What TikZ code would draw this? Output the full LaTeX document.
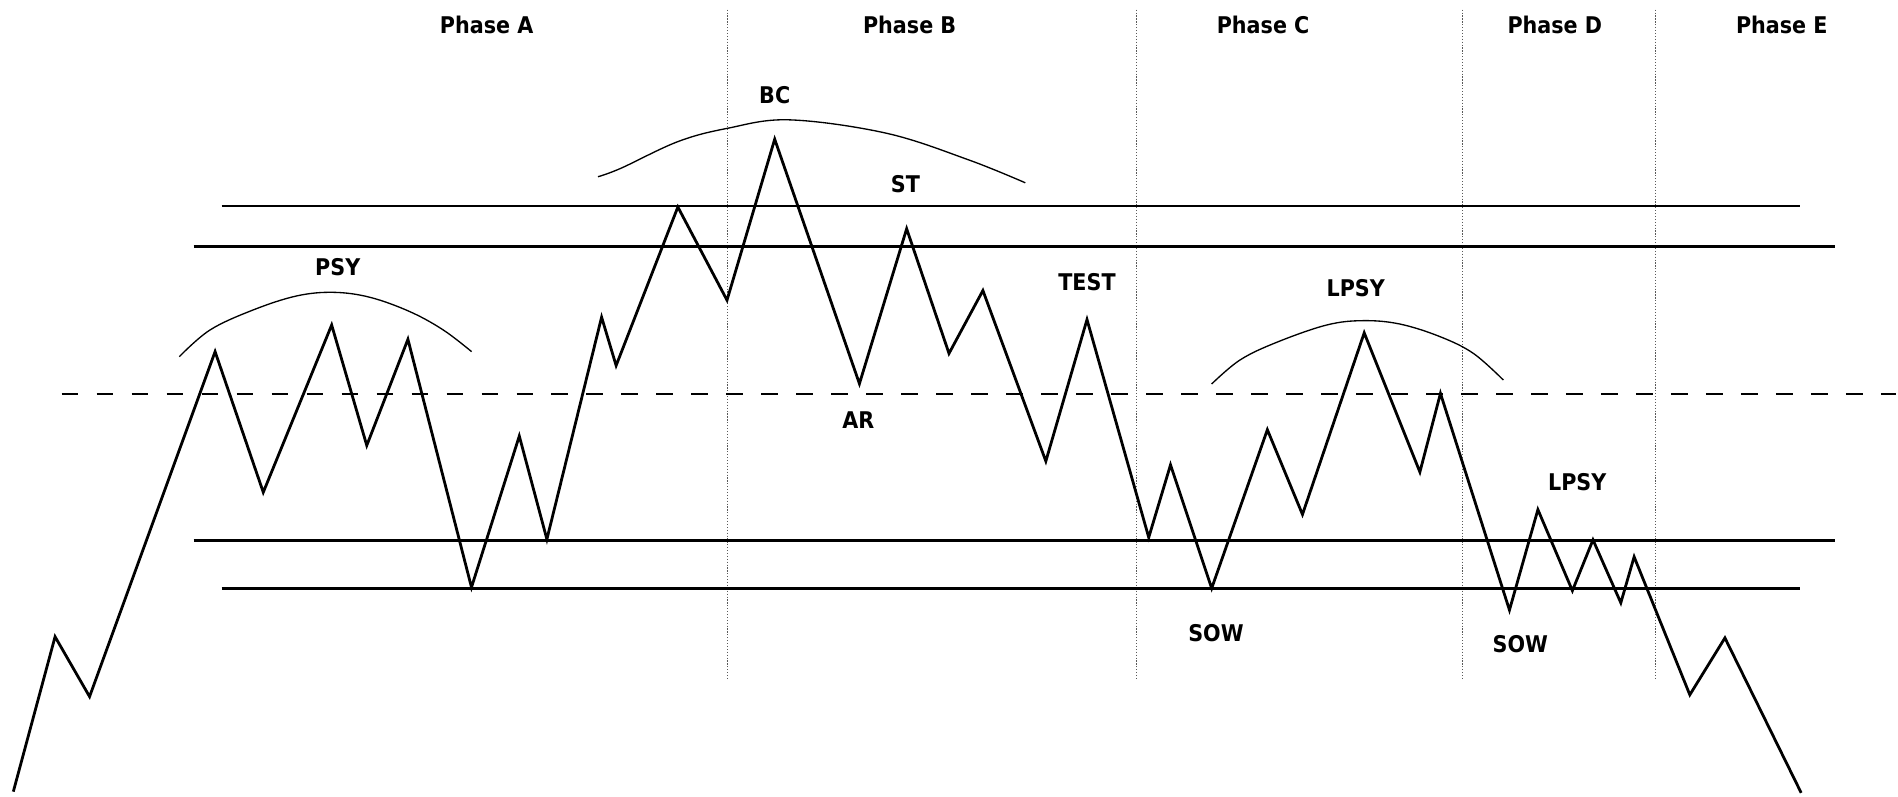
\documentclass[tikz,border=0pt]{standalone}
\usepackage{fontspec}
\setmainfont{DejaVu Sans Condensed}
\begin{document}
\begin{tikzpicture}[x=1pt,y=-1pt,
  price/.style={line width=2.3pt,line join=miter,miter limit=10},
  level/.style={line width=2.3pt},
  midline/.style={line width=2.3pt,dash pattern=on 13.8pt off 15.1pt},
  phaseline/.style={line width=0.8pt,black!65,dash pattern=on 1pt off 1.4pt},
  hump/.style={line width=1.1pt},
  lbl/.style={anchor=base,inner sep=0pt,font=\fontsize{19}{23}\selectfont\bfseries}]
\useasboundingbox (0,0) rectangle (1568,658);
% phase separators
\foreach \x/\n in {601/ab,938.5/bc,1208/cd,1368/de}
  \draw[phaseline] (\x,8) coordinate (\n top) -- (\x,561) coordinate (\n bot);
% phase titles
\node[lbl] (pa) at (402,27.5) {Phase A};
\node[lbl] (pb) at (751.5,27.5) {Phase B};
\node[lbl] (pc) at (1043.5,27.5) {Phase C};
\node[lbl] (pd) at (1284.5,27.5) {Phase D};
\node[lbl] (pe) at (1472,27.5) {Phase E};
% levels
\draw[level] (183,170.2) -- (1487,170.2);
\draw[level] (160,203.8) -- (1516,203.8);
\draw[level] (160,446.5) -- (1516,446.5);
\draw[level] (183,486) -- (1487,486);
\draw[midline] (51,325.5) -- (1566,325.5);
% humps
\draw[hump] plot[smooth,tension=0.6] coordinates {(148.1,294.7) (173.5,272.6) (209.3,256) (245,244.5) (275.4,241.5) (305.6,245.6) (338.7,257.5) (366.2,272.6) (389.6,290.5)};
\draw[hump] plot[smooth,tension=0.6] coordinates {(494,146) (513,139) (560,117) (601,106) (652,99) (732,110) (800,132) (847,151)};
\draw[hump] plot[smooth,tension=0.6] coordinates {(1001,317.2) (1024.4,297.4) (1054.7,282.8) (1096,268.5) (1126.3,264.9) (1156.5,267.7) (1189.6,278.1) (1217.1,291.9) (1241.9,313.9)};
% price
\draw[price] (11,654) -- (45.5,526) -- (74,575.5) -- (177.7,290.5) -- (217.5,406.7)
  -- (274,268.5) -- (303,368) -- (337,280.3) -- (389.5,485.2) -- (429,360.2)
  -- (451.8,445.5) -- (497,262) -- (509,302) -- (560,171) -- (600.6,248)
  -- (640,115) -- (710,317) -- (749,189) -- (784,292) -- (812,240)
  -- (864,381) -- (898,264) -- (949,444) -- (967,384) -- (1001,486)
  -- (1047,355) -- (1076,425) -- (1127,275) -- (1173,390) -- (1190,325)
  -- (1247,504) -- (1270.5,421) -- (1299,488) -- (1316,446) -- (1339,498)
  -- (1350,460) -- (1396,574) -- (1425,527) -- (1488,655);
% labels
\node[lbl] (psy) at (279,228) {PSY};
\node[lbl] (bc) at (640,85.5) {BC};
\node[lbl] (st) at (748,159) {ST};
\node[lbl] (ar) at (709,354) {AR};
\node[lbl] (test) at (898,240) {TEST};
\node[lbl] (lpsy1) at (1120,245) {LPSY};
\node[lbl] (sow1) at (1004.5,530) {SOW};
\node[lbl] (lpsy2) at (1303,405) {LPSY};
\node[lbl] (sow2) at (1256,539) {SOW};
\end{tikzpicture}
\end{document}
